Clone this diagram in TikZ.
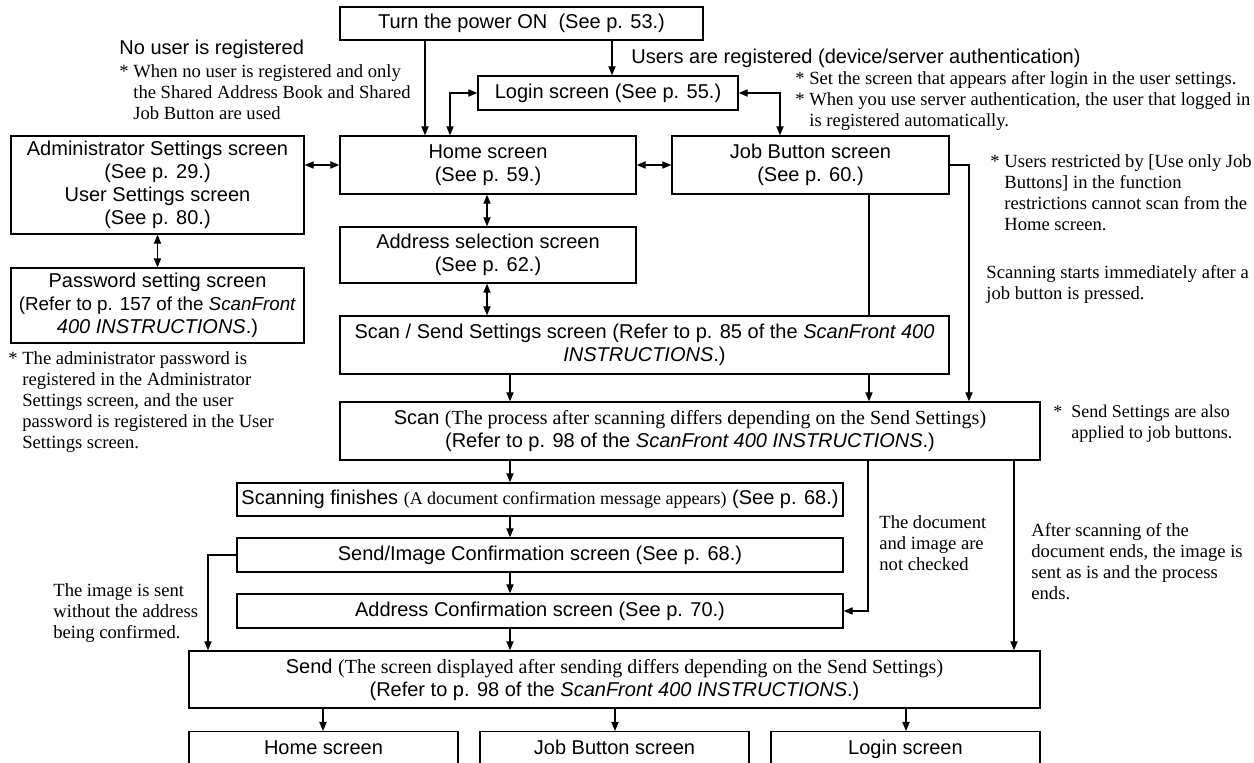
\documentclass[tikz,border=0pt]{standalone}
\usepackage{fontspec}
\setmainfont{Liberation Serif}
\setsansfont{Liberation Sans}
\usetikzlibrary{arrows.meta}
\newcommand\srf{\rmfamily\fontsize{9.3}{10.5}\selectfont}
\newcommand\srb{\rmfamily\fontsize{10}{11.5}\selectfont}
\newcommand\srs{\rmfamily\fontsize{9}{11.5}\selectfont}
\newcommand\stp{\phantom{*}\ }
\begin{document}
\begin{tikzpicture}[x=0.5pt,y=-0.5pt,
 box/.style={draw, line width=0.7pt, inner sep=0pt, align=center, font=\sffamily\fontsize{10}{11.5}\selectfont},
 arr/.style={line width=0.6pt, -{Triangle[length=4.5pt,width=3.6pt]}},
 darr/.style={line width=0.6pt, {Triangle[length=4.5pt,width=3.6pt]}-{Triangle[length=4.5pt,width=3.6pt]}},
 ln/.style={line width=0.6pt},
 note/.style={inner sep=0pt, align=left, font=\srf, anchor=base west},
 lab/.style={inner sep=0pt, font=\sffamily\fontsize{10}{12}\selectfont, anchor=base west},
 bot/.style={box, anchor=north, minimum width=134.5pt, inner ysep=4pt, text height=7.5pt, text depth=25pt}]
\useasboundingbox (0,0) rectangle (1254,763);
% boxes
\node[box, minimum width=181.5pt, minimum height=16.5pt] (power) at (521.5,23.5) {Turn the power ON\ \ (See p. 53.)};
\node[box, minimum width=130pt, minimum height=17pt] (login) at (608,93) {Login screen (See p. 55.)};
\node[box, minimum width=148pt, minimum height=29pt] (home) at (488,165) {Home screen\\(See p. 59.)};
\node[box, minimum width=138.5pt, minimum height=29pt] (job) at (810.5,165) {Job Button screen\\(See p. 60.)};
\node[box, minimum width=146.5pt, minimum height=49pt] (admin) at (157.5,185) {Administrator Settings screen\\(See p. 29.)\\User Settings screen\\(See p. 80.)};
\node[box, minimum width=146.5pt, minimum height=37.5pt] (pw) at (157.5,305.5) {Password setting screen\\{\fontsize{9.4}{11.5}\selectfont(Refer to p. 157 of the \textit{ScanFront}}\\\textit{400 INSTRUCTIONS}.)};
\node[box, minimum width=148pt, minimum height=28pt] (addrsel) at (488,255) {Address selection screen\\(See p. 62.)};
\node[box, minimum width=304.5pt, minimum height=29pt] (scanset) at (644.5,345) {Scan / Send Settings screen (Refer to p. 85 of the \textit{ScanFront 400}\\\textit{INSTRUCTIONS}.)};
\node[box, minimum width=350pt, minimum height=29pt] (scan) at (690,431) {Scan {\srb (The process after scanning differs depending on the Send Settings)}\\(Refer to p. 98 of the \textit{ScanFront 400 INSTRUCTIONS}.)};
\node[box, minimum width=303pt, minimum height=16.5pt] (fin) at (540,499.5) {Scanning finishes {\srs (A document confirmation message appears)} (See p. 68.)};
\node[box, minimum width=303pt, minimum height=17pt] (sic) at (540,555) {Send/Image Confirmation screen (See p. 68.)};
\node[box, minimum width=303pt, minimum height=17pt] (ac) at (540,611) {Address Confirmation screen (See p. 70.)};
\node[box, minimum width=425.5pt, minimum height=28.5pt] (send) at (614.5,679.5) {Send {\srb (The screen displayed after sending differs depending on the Send Settings)}\\(Refer to p. 98 of the \textit{ScanFront 400 INSTRUCTIONS}.)};
\node[bot] (home2) at (323.5,731) {Home screen};
\node[bot] (job2) at (614.5,731) {Job Button screen};
\node[bot] (login2) at (905.5,731) {Login screen};
% labels and notes (base anchor = last line's baseline)
\node[lab] (l1) at (119,55) {No user is registered};
\node[note] (n1) at (119,120) {*\ When no user is registered and only\\\stp the Shared Address Book and Shared\\\stp Job Button are used};
\node[lab] (l2) at (631,64) {Users are registered (device/server authentication)};
\node[note] (n2) at (795,127) {*\ Set the screen that appears after login in the user settings.\\*\ When you use server authentication, the user that logged in\\\stp is registered automatically.};
\node[note] (n3) at (990,231) {*\ Users restricted by [Use only Job\\\stp Buttons] in the function\\\stp restrictions cannot scan from the\\\stp Home screen.};
\node[note] (n4) at (986,300) {Scanning starts immediately after a\\job button is pressed.};
\node[note, font=\rmfamily\fontsize{9}{10.5}\selectfont] (n5) at (1053,439) {*\ \ Send Settings are also\\\stp\ applied to job buttons.};
\node[note] (n6) at (8,449) {*\ The administrator password is\\\stp registered in the Administrator\\\stp Settings screen, and the user\\\stp password is registered in the User\\\stp Settings screen.};
\node[note] (n7) at (879,571) {The document\\and image are\\not checked};
\node[note] (n8) at (1031,600) {After scanning of the\\document ends, the image is\\sent as is and the process\\ends.};
\node[note] (n9) at (53,639) {The image is sent\\without the address\\being confirmed.};
% connectors
\draw[arr] (power.south -| 425,0) -- (home.north -| 425,0);
\draw[arr] (power.south -| 612,0) -- (login.north -| 612,0);
\draw[darr] (home.north -| 450,0) |- (login.west);
\draw[darr] (login.east) -| (job.north -| 780,0);
\draw[darr] (admin.east |- home.west) -- (home.west);
\draw[darr] (home.east) -- (job.west);
\draw[darr] (admin.south) -- (pw.north);
\draw[darr] (home.south -| 487,0) -- (addrsel.north -| 487,0);
\draw[darr] (addrsel.south -| 487,0) -- (scanset.north -| 487,0);
\draw[ln] (job.south -| 869,0) -- (scanset.north -| 869,0);
\draw[arr] (scanset.south -| 869,0) -- (scan.north -| 869,0);
\draw[arr] (scanset.south -| 510,0) -- (scan.north -| 510,0);
\draw[arr] (job.east) -| (scan.north -| 969,0);
\draw[arr] (scan.south -| 510,0) -- (fin.north -| 510,0);
\draw[arr] (fin.south -| 510,0) -- (sic.north -| 510,0);
\draw[arr] (sic.south -| 510,0) -- (ac.north -| 510,0);
\draw[arr] (ac.south -| 510,0) -- (send.north -| 510,0);
\draw[arr] (scan.south -| 868,0) |- (ac.east);
\draw[arr] (scan.south -| 1014,0) -- (send.north -| 1014,0);
\draw[arr] (sic.west) -| (send.north -| 208,0);
\draw[arr] (send.south -| 323,0) -- (home2.north -| 323,0);
\draw[arr] (send.south -| 615,0) -- (job2.north -| 615,0);
\draw[arr] (send.south -| 906,0) -- (login2.north -| 906,0);
\end{tikzpicture}
\end{document}
